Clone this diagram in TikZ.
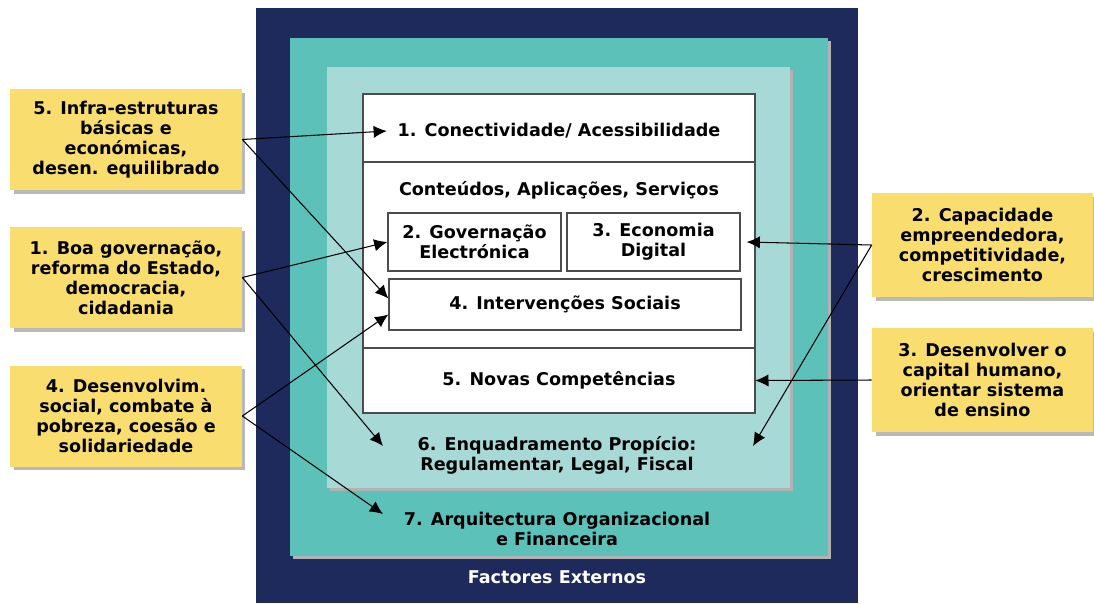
\documentclass[tikz,border=0pt]{standalone}
\usepackage{fontspec}
\setmainfont{DejaVu Sans}
\usetikzlibrary{positioning,calc,arrows.meta,shadows}

\definecolor{outernavy}{HTML}{1F2A5C}
\definecolor{midteal}{HTML}{5BC1B9}
\definecolor{paleteal}{HTML}{A7DAD6}
\definecolor{goalyellow}{HTML}{F9DD6E}

\begin{document}
\begin{tikzpicture}[x=0.02cm,y=-0.02cm,
    font=\fontsize{10}{11.4}\selectfont\bfseries,
    goalbox/.style={fill=goalyellow, align=center, inner sep=2pt,
      drop shadow={shadow xshift=2pt, shadow yshift=-2pt, fill=gray!55, opacity=1}},
    areabox/.style={draw=gray!60!black, line width=0.8pt, fill=white, align=center},
    link/.style={line width=0.6pt, -{Latex[length=7.5pt,width=7pt]}}]
    \useasboundingbox (0,0) rectangle (1094,603);

    % nested panels
    \fill[outernavy] (256,8) rectangle (858,603);
    \fill[gray!60] (293,41) rectangle (831,559);
    \fill[midteal] (290,38) rectangle (828,556);
    \fill[gray!60] (330,70) rectangle (793,491);
    \fill[paleteal] (327,67) rectangle (790,488);

    % white block with its three rows
    \draw[areabox] (363,94) rectangle (755,413);
    \draw[gray!60!black, line width=0.8pt] (363,162) -- (755,162);
    \draw[gray!60!black, line width=0.8pt] (363,348) -- (755,348);

    \node[inner sep=6pt] (conn) at (559,131) {1. Conectividade/ Acessibilidade};
    \node (cont) at (559,190) {Conteúdos, Aplicações, Serviços};
    \node[areabox, minimum width=3.46cm, minimum height=1.16cm] (gov) at (474.5,242)
      {2. Governação\\Electrónica};
    \node[areabox, minimum width=3.46cm, minimum height=1.16cm] (eco) at (653.5,242)
      {3. Economia\\Digital};
    \node[areabox, minimum width=7.04cm, minimum height=1.02cm] (interv) at (565,304.5)
      {4. Intervenções Sociais};
    \node[minimum width=7.84cm, minimum height=1.26cm] (nov) at (559,380.5)
      {5. Novas Competências};

    % outer rings
    \node[align=center] (enq) at (557,455.5) {6. Enquadramento Propício:\\Regulamentar, Legal, Fiscal};
    \node[align=center] (arq) at (557,528.5) {7. Arquitectura Organizacional\\e Financeira};
    \node[text=white] (ext) at (557,577) {Factores Externos};
    \coordinate (enqL) at (383,446);
    \coordinate (enqR) at (753,446);
    \coordinate (arqL) at (383,514);

    % policy boxes
    \node[goalbox, minimum width=4.64cm, minimum height=2.02cm] (b5) at (126,139.5)
      {5. Infra-estruturas\\básicas e\\económicas,\\desen. equilibrado};
    \node[goalbox, minimum width=4.64cm, minimum height=2.02cm] (b1) at (126,277.5)
      {1. Boa governação,\\reforma do Estado,\\democracia,\\cidadania};
    \node[goalbox, minimum width=4.64cm, minimum height=2.02cm] (b4) at (126,416)
      {4. Desenvolvim.\\social, combate à\\pobreza, coesão e\\solidariedade};
    \node[goalbox, minimum width=4.42cm, minimum height=2.08cm] (b2) at (982.5,245)
      {2. Capacidade\\empreendedora,\\competitividade,\\crescimento};
    \node[goalbox, minimum width=4.42cm, minimum height=2.08cm] (b3) at (982.5,380)
      {3. Desenvolver o\\capital humano,\\orientar sistema\\de ensino};

    % links
    \draw[link] (b5.east) -- (conn.west);
    \draw[link] (b5.east) -- ($(interv.west)+(0,-6)$);
    \draw[link] (b1.east) -- (gov.west);
    \draw[link] (b1.east) -- (enqL);
    \draw[link] (b4.east) -- ($(interv.west)+(0,10)$);
    \draw[link] (b4.east) -- (arqL);
    \draw[link] (b2.west) -- ($(eco.east)+(6,0)$);
    \draw[link] (b2.west) -- (enqR);
    \draw[link] (b3.west) -- (nov.east);
\end{tikzpicture}
\end{document}
